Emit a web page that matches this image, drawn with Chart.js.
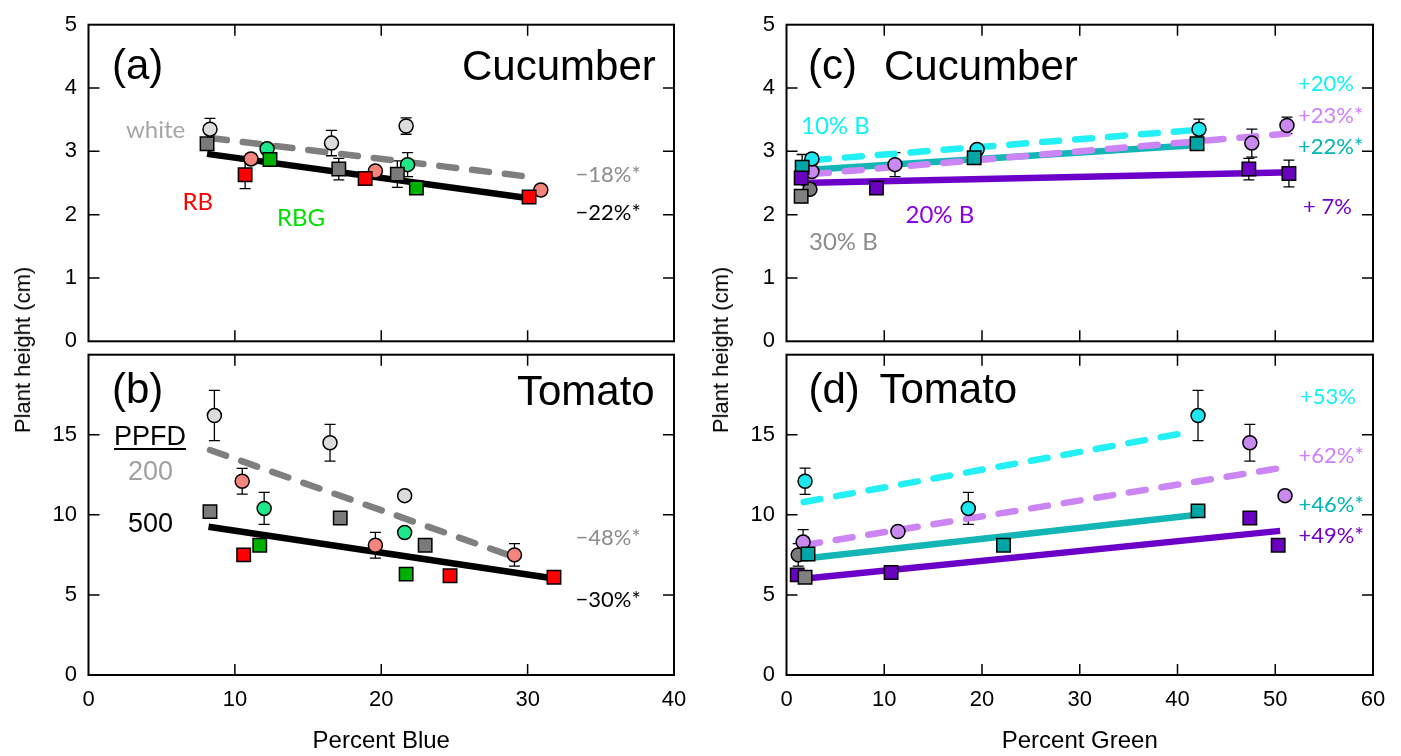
<!DOCTYPE html>
<html>
<head>
<meta charset="utf-8">
<script src="https://cdn.jsdelivr.net/npm/chart.js@4.4.1/dist/chart.umd.min.js"></script>
<style>
    body { margin: 0; background: #fff; width: 1401px; height: 756px; overflow: hidden; position: relative; }
    canvas { position: absolute; }
    .lbl { position: absolute; left: 0; top: 0; white-space: pre; line-height: 1; z-index: 2; }
    .ytitle { position: absolute; transform: translate(-50%, -50%) rotate(-90deg); white-space: nowrap;
              line-height: 1; font: 22px 'Liberation Sans', Arial, sans-serif; color: #000; z-index: 2; }
</style>
</head>
<body>
<canvas id="panelA" width="700" height="366" style="left:0;top:0"></canvas>
<canvas id="panelB" width="700" height="426" style="left:0;top:330px"></canvas>
<canvas id="panelC" width="701" height="366" style="left:700px;top:0"></canvas>
<canvas id="panelD" width="701" height="426" style="left:700px;top:330px"></canvas>
<div class="ytitle" style="left:23px;top:350px">Plant height (cm)</div>
<div class="ytitle" style="left:721px;top:350px">Plant height (cm)</div>

<script>
// ---- axis ticks ----
const blueTicks = [0, 10, 20, 30, 40];
const greenTicks = [0, 10, 20, 30, 40, 50, 60];
const cucumberTicks = [0, 1, 2, 3, 4, 5];
const tomatoTicks = [0, 5, 10, 15];

// ---- (a) cucumber vs percent blue : [percent blue, height, error] ----
const aWhite200 = [[8.3, 3.35, 0.17], [16.6, 3.13, 0.20], [21.7, 3.40, 0.13]];
const aRB200 = [[11.1, 2.88, 0.08], [19.6, 2.69, 0], [30.9, 2.39, 0]];
const aRBG200 = [[12.2, 3.04, 0], [21.8, 2.79, 0.19]];
const aWhite500 = [[8.1, 3.12, 0], [17.1, 2.72, 0.17], [21.1, 2.64, 0.21]];
const aRB500 = [[10.7, 2.63, 0.22], [18.9, 2.57, 0], [30.1, 2.28, 0.10]];
const aRBG500 = [[12.4, 2.87, 0], [22.4, 2.42, 0]];
const aFit200 = [[8.3, 3.21], [30.4, 2.59]];
const aFit500 = [[8.1, 2.96], [30.1, 2.26]];

// ---- (b) tomato vs percent blue ----
const bWhite200 = [[8.6, 16.2, 1.57], [16.5, 14.5, 1.15], [21.6, 11.2, 0]];
const bRB200 = [[10.5, 12.1, 0.8], [19.6, 8.1, 0.8], [29.1, 7.5, 0.7]];
const bRBG200 = [[12.0, 10.4, 1.0], [21.6, 8.9, 0]];
const bWhite500 = [[8.3, 10.2, 0], [17.2, 9.8, 0], [23.0, 8.1, 0]];
const bRB500 = [[10.6, 7.5, 0], [24.7, 6.2, 0], [31.8, 6.1, 0]];
const bRBG500 = [[11.7, 8.1, 0], [21.7, 6.3, 0]];
const bFit200 = [[8.3, 14.05], [28.8, 7.46]];
const bFit500 = [[8.2, 9.26], [31.8, 6.03]];

// ---- (c) cucumber vs percent green ----
const cB10_200 = [[2.6, 2.88, 0.08], [19.5, 3.03, 0], [42.2, 3.35, 0.16]];
const cB20_200 = [[2.6, 2.68, 0], [11.1, 2.79, 0.19], [47.6, 3.13, 0.22], [51.2, 3.41, 0.13]];
const cB30_200 = [[2.4, 2.40, 0]];
const cB10_500 = [[1.6, 2.75, 0.2], [19.2, 2.90, 0], [42.0, 3.12, 0.1]];
const cB20_500 = [[1.5, 2.58, 0], [9.2, 2.42, 0], [47.3, 2.72, 0.17], [51.4, 2.65, 0.21]];
const cB30_500 = [[1.5, 2.29, 0.1]];
const cFitB10_200 = [[2.6, 2.86], [42.1, 3.34]];
const cFitB20_200 = [[2.6, 2.64], [51.3, 3.28]];
const cFitB10_500 = [[1.7, 2.70], [42.1, 3.10]];
const cFitB20_500 = [[1.5, 2.50], [51.7, 2.67]];

// ---- (d) tomato vs percent green ----
const dB10_200 = [[1.9, 12.1, 0.82], [18.6, 10.4, 1.0], [42.1, 16.2, 1.57]];
const dB20_200 = [[1.7, 8.3, 0.78], [11.4, 8.96, 0], [47.4, 14.5, 1.15], [51.0, 11.2, 0]];
const dB30_200 = [[1.2, 7.5, 0.7]];
const dB10_500 = [[2.2, 7.55, 0], [22.2, 8.1, 0], [42.1, 10.25, 0]];
const dB20_500 = [[1.1, 6.25, 0], [10.7, 6.4, 0], [47.4, 9.8, 0], [50.3, 8.1, 0]];
const dB30_500 = [[1.9, 6.1, 0]];
const dFitB10_200 = [[1.75, 10.8], [41.5, 15.2]];
const dFitB20_200 = [[1.7, 8.1], [51.3, 13.0]];
const dFitB10_500 = [[1.7, 7.26], [42.1, 10.0]];
const dFitB20_500 = [[1.5, 6.0], [50.5, 9.0]];

const SANS = "'Liberation Sans', Arial, sans-serif";
const SOFT = "Lato, 'Open Sans', sans-serif";

function pts(rows) {
    return rows.map(r => ({ x: r[0], y: r[1], e: r[2] || 0 }));
}

function circles(rows, fill) {
    return { data: pts(rows), pointStyle: 'circle', pointRadius: 7, backgroundColor: fill,
             borderColor: '#000', borderWidth: 1.5, errorBars: true, order: 1 };
}

function squares(rows, fill) {
    return { data: pts(rows), pointStyle: 'rect', pointRadius: 9.5, backgroundColor: fill,
             borderColor: '#000', borderWidth: 1.5, errorBars: true, order: 0 };
}

// dashed fits sit above the solid ones
function fitLine(rows, color, dashed) {
    return { data: pts(rows), showLine: true, pointRadius: 0, borderColor: color, borderWidth: 6.5,
             borderDash: dashed ? [17, 16] : [], borderCapStyle: dashed ? 'round' : 'butt',
             fill: false, order: dashed ? 2 : 3 };
}

// frame with inward ticks, and error bars
const framePlugin = {
    id: 'frame',
    beforeDatasetsDraw(chart) {
        const { ctx, scales: { x, y } } = chart;
        ctx.save();
        ctx.strokeStyle = '#000';
        ctx.lineWidth = 1.3;
        chart.data.datasets.forEach(ds => {
            if (!ds.errorBars) return;
            ds.data.forEach(p => {
                if (!p.e) return;
                const px = x.getPixelForValue(p.x);
                const top = y.getPixelForValue(p.y + p.e);
                const bot = y.getPixelForValue(p.y - p.e);
                ctx.beginPath();
                ctx.moveTo(px, top); ctx.lineTo(px, bot);
                ctx.moveTo(px - 5.5, top); ctx.lineTo(px + 5.5, top);
                ctx.moveTo(px - 5.5, bot); ctx.lineTo(px + 5.5, bot);
                ctx.stroke();
            });
        });
        ctx.restore();
    },
    afterDraw(chart, args, opts) {
        const { ctx, chartArea: a, scales: { x, y } } = chart;
        const len = 11;
        ctx.save();
        ctx.strokeStyle = '#000';
        ctx.lineWidth = 1.5;
        ctx.beginPath();
        opts.xTicks.forEach(v => {
            if (v <= x.min || v >= x.max) return;
            const px = x.getPixelForValue(v);
            ctx.moveTo(px, a.top); ctx.lineTo(px, a.top + len);
            ctx.moveTo(px, a.bottom); ctx.lineTo(px, a.bottom - len);
        });
        opts.yTicks.forEach(v => {
            if (v <= y.min || v >= y.max) return;
            const py = y.getPixelForValue(v);
            ctx.moveTo(a.left, py); ctx.lineTo(a.left + len, py);
            ctx.moveTo(a.right, py); ctx.lineTo(a.right - len, py);
        });
        ctx.stroke();
        ctx.lineWidth = 2;
        ctx.strokeRect(a.left, a.top, a.right - a.left, a.bottom - a.top);
        ctx.restore();
    }
};

function makePanel(id, cfg) {
    const tickFont = { family: SANS, size: 22 };
    new Chart(document.getElementById(id), {
        type: 'scatter',
        data: { datasets: cfg.datasets },
        options: {
            responsive: false,
            devicePixelRatio: 1,
            animation: false,
            events: [],
            layout: { padding: { top: cfg.padTop, bottom: cfg.padBottom, left: 0, right: cfg.padRight } },
            plugins: {
                legend: { display: false },
                tooltip: { enabled: false },
                frame: { xTicks: cfg.xTicks, yTicks: cfg.yTicks }
            },
            scales: {
                x: {
                    type: 'linear',
                    min: cfg.xTicks[0],
                    max: cfg.xTicks[cfg.xTicks.length - 1],
                    display: !!cfg.xTitle,
                    afterBuildTicks: s => { s.ticks = cfg.xTicks.map(v => ({ value: v })); },
                    grid: { display: false, drawTicks: false },
                    border: { display: false },
                    ticks: { padding: 12, font: tickFont, color: '#000', maxRotation: 0, autoSkip: false },
                    title: {
                        display: !!cfg.xTitle, text: cfg.xTitle || '', color: '#000',
                        font: { family: SANS, size: 24 }, padding: { top: 0, bottom: 0 }
                    },
                    afterFit: s => { if (cfg.xTitle) s.height = 81; }
                },
                y: {
                    type: 'linear',
                    min: cfg.yMin,
                    max: cfg.yMax,
                    afterBuildTicks: s => { s.ticks = cfg.yTicks.map(v => ({ value: v })); },
                    grid: { display: false, drawTicks: false },
                    border: { display: false },
                    ticks: { padding: 11.5, font: tickFont, color: '#000' },
                    afterFit: s => { s.width = cfg.axisWidth; }
                }
            }
        },
        plugins: [framePlugin]
    });
}

// colours
const lightGray = '#dcdcdc', salmon = '#f3857e', mint = '#1fe88a';
const darkGray = '#7a7a7a', red = '#ff0000', green = '#00b000';
const cyan = '#1ee6f0', lavender = '#c98af0', teal = '#00a6a6', purple = '#6a00c0';

makePanel('panelA', {
    padTop: 24, padBottom: 16.5, padRight: 26, axisWidth: 88.5,
    xTicks: blueTicks, yTicks: cucumberTicks, yMin: 0, yMax: 5,
    datasets: [
        squares(aRB500, red), squares(aRBG500, green), squares(aWhite500, darkGray),
        circles(aRB200, salmon), circles(aRBG200, mint), circles(aWhite200, lightGray),
        fitLine(aFit500, '#000', false), fitLine(aFit200, '#7f7f7f', true)
    ]
});

makePanel('panelB', {
    padTop: 19.5, padBottom: 0, padRight: 26, axisWidth: 88.5,
    xTicks: blueTicks, yTicks: tomatoTicks, yMin: 0, yMax: 20, xTitle: 'Percent Blue',
    datasets: [
        squares(bRB500, red), squares(bRBG500, green), squares(bWhite500, darkGray),
        circles(bRB200, salmon), circles(bRBG200, mint), circles(bWhite200, lightGray),
        fitLine(bFit500, '#000', false), fitLine(bFit200, '#7f7f7f', true)
    ]
});

makePanel('panelC', {
    padTop: 24, padBottom: 16.5, padRight: 28, axisWidth: 86.5,
    xTicks: greenTicks, yTicks: cucumberTicks, yMin: 0, yMax: 5,
    datasets: [
        squares(cB30_500, '#808080'), squares(cB20_500, purple), squares(cB10_500, teal),
        circles(cB10_200, cyan), circles(cB20_200, lavender), circles(cB30_200, darkGray),
        fitLine(cFitB20_500, '#6c00c8', false), fitLine(cFitB10_500, '#13b5b5', false),
        fitLine(cFitB20_200, '#cc85f5', true), fitLine(cFitB10_200, '#22f0f5', true)
    ]
});

makePanel('panelD', {
    padTop: 19.5, padBottom: 0, padRight: 28, axisWidth: 86.5,
    xTicks: greenTicks, yTicks: tomatoTicks, yMin: 0, yMax: 20, xTitle: 'Percent Green',
    datasets: [
        squares(dB30_500, '#808080'), squares(dB20_500, purple), squares(dB10_500, teal),
        circles(dB10_200, cyan), circles(dB20_200, lavender), circles(dB30_200, darkGray),
        fitLine(dFitB20_500, '#6c00c8', false), fitLine(dFitB10_500, '#13b5b5', false),
        fitLine(dFitB20_200, '#cc85f5', true), fitLine(dFitB10_200, '#22f0f5', true)
    ]
});

// ---- text annotations, placed by baseline ----
function label(text, x, base, size, color, opts) {
    opts = opts || {};
    const d = document.createElement('div');
    d.className = 'lbl';
    d.style.fontFamily = opts.family || SANS;
    d.style.fontSize = size + 'px';
    d.style.color = color;
    if (opts.underline) {
        d.style.textDecoration = 'underline';
        d.style.textDecorationThickness = '2px';
        d.style.textUnderlineOffset = '3px';
    }
    d.textContent = text;
    const mark = document.createElement('span');
    mark.style.cssText = 'display:inline-block;width:0;height:0;vertical-align:baseline;';
    d.appendChild(mark);
    document.body.appendChild(d);
    d.style.top = (base - mark.offsetTop) + 'px';
    d.style.left = (opts.align === 'right' ? x - d.offsetWidth : x) + 'px';
}

const soft = { family: SOFT };

// (a)
label('(a)', 112, 79, 42, '#000');
label('Cucumber', 656, 80, 42, '#000', { align: 'right' });
label('white', 126, 138, 24, '#a6a6a6', soft);
label('RB', 182.5, 210, 24, '#ff0000', soft);
label('RBG', 277, 226, 24, '#00e000', soft);
label('\u221218%*', 575.5, 182, 22, '#8c8c8c', soft);
label('\u221222%*', 575.5, 220, 22, '#000', soft);
// (b)
label('(b)', 112, 403, 42, '#000');
label('Tomato', 655, 405, 42, '#000', { align: 'right' });
label('PPFD', 114, 445, 27, '#000', { underline: true });
label('200', 128, 480, 27, '#a0a0a0');
label('500', 128, 532, 27, '#000');
label('\u221248%*', 575.5, 545, 22, '#8c8c8c', soft);
label('\u221230%*', 575.5, 607, 22, '#000', soft);
// (c)
label('(c)', 808, 79, 42, '#000');
label('Cucumber', 884, 80, 42, '#000');
label('10% B', 801, 134, 24, '#10f0f8', soft);
label('20% B', 905.5, 223, 24, '#8a00e6', soft);
label('30% B', 809, 250, 24, '#8c8c8c', soft);
label('+20%', 1298, 91, 22, '#10f0f8', soft);
label('+23%*', 1298, 123, 22, '#cc80ff', soft);
label('+22%*', 1298, 154, 22, '#00b5b5', soft);
label('+ 7%', 1303, 214, 22, '#7300cc', soft);
// (d)
label('(d)', 808.5, 403, 42, '#000');
label('Tomato', 879.5, 403, 42, '#000');
label('+53%', 1300, 404, 22, '#10f0f8', soft);
label('+62%*', 1298.5, 463, 22, '#cc80ff', soft);
label('+46%*', 1298.5, 512, 22, '#00b5b5', soft);
label('+49%*', 1298.5, 543, 22, '#7300cc', soft);
</script>
</body>
</html>
